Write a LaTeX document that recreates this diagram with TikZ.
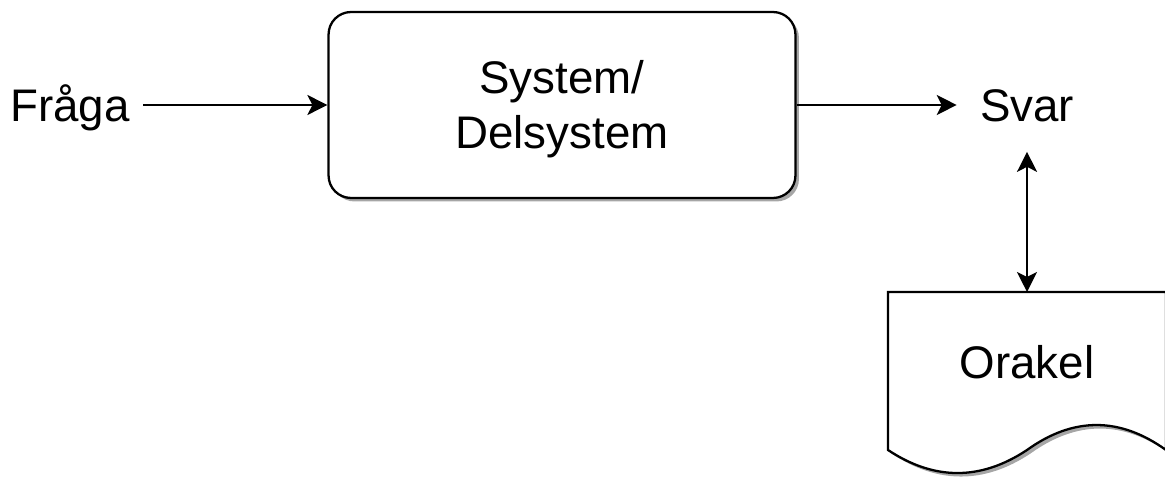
\documentclass[tikz,border=0pt]{standalone}
\usepackage{fontspec}
\setmainfont{Liberation Sans}
\usetikzlibrary{arrows.meta,shadows}

\begin{document}
\begin{tikzpicture}[x=0.02cm,y=-0.02cm,
  >={Stealth[length=0.4cm,width=0.4cm,inset=0.1cm]},
  txt/.style={font=\fontsize{26}{31}\selectfont,text height=0.66cm,
    text depth=0pt,inner xsep=0.26cm,inner ysep=0pt},
  link/.style={line width=1.2pt},
  shade/.style={drop shadow={shadow xshift=0.07cm,shadow yshift=-0.07cm,
    fill=black!35,opacity=1}}]
\useasboundingbox (0,0) rectangle (1165,479);

\node[txt] (fraga) at (70,105) {Fråga};
\node[txt] (svar) at (1027,105) {Svar};
\node[draw,line width=1.3pt,rounded corners=0.45cm,fill=white,shade,
  minimum width=9.34cm,minimum height=3.72cm] (sys) at (562,105) {};
\node[align=center,font=\fontsize{26}{31}\selectfont]
  (systxt) at ([yshift=-0.08cm]sys.center) {System/\\Delsystem};

\begin{scope}[line width=1.3pt]
  \draw[fill=white,shade] (888,292) -- (1166,292) -- (1166,450)
    .. controls (1119.7,416.7) and (1073.3,416.7) .. (1027,450)
    .. controls (980.7,480.7) and (934.3,480.7) .. (888,450) -- cycle;
\end{scope}
\node[txt] (orakel) at (1027,362) {Orakel};
\coordinate (doctop) at (1027,292);

\draw[link,->] (fraga.east) -- (sys.west);
\draw[link,->,shorten >=0.2cm] (sys.east) -- (svar.west);
\draw[link,<->,shorten <=0.6cm] (svar.south) -- (doctop);
\end{tikzpicture}
\end{document}
